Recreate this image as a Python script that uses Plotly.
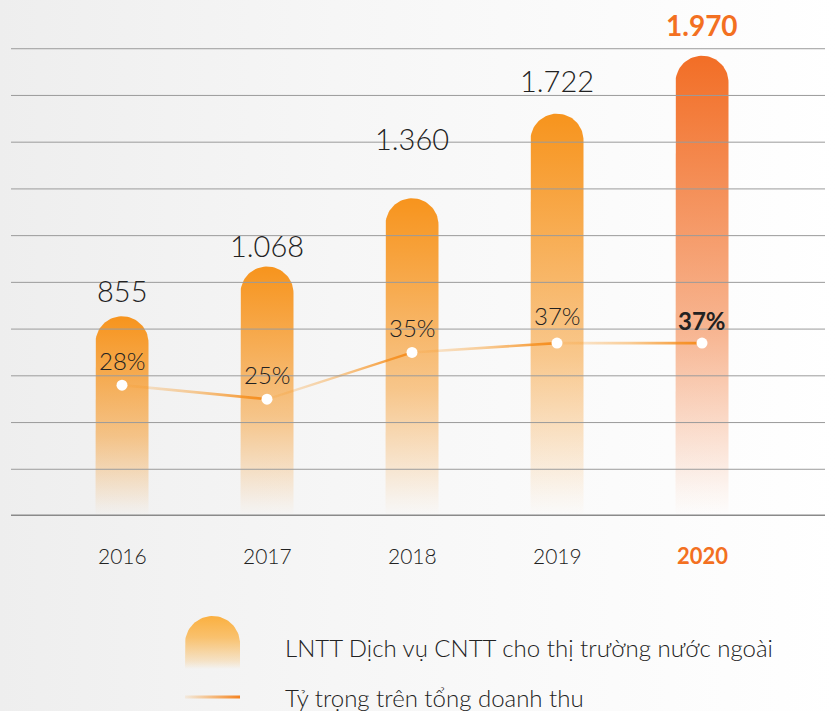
import numpy as np
import plotly.graph_objects as go

# ---------------- data ----------------
years = ["2016", "2017", "2018", "2019", "2020"]
profit = [855, 1068, 1360, 1722, 1970]           # LNTT (tỷ đồng)
profit_labels = ["855", "1.068", "1.360", "1.722", "1.970"]
share = [28, 25, 35, 37, 37]                     # % trên tổng doanh thu
share_labels = ["28%", "25%", "35%", "37%", "37%"]
legend_bar = "LNTT Dịch vụ CNTT cho thị trường nước ngoài"
legend_line = "Tỷ trọng trên tổng doanh thu"

# ---------------- style ----------------
W, H = 838, 711
FONT = "Lato"
TXT = "#222222"
ORANGE = (247, 148, 29)
ORANGE_HL = (242, 110, 38)
HL_TXT = "#F37021"
label_dy = [26, 21, 60, 33, 31]      # px above bar top
pct_dy = [25, 25, 25, 28, 23]        # px above marker

PX_L, PX_R = 11, 825                 # plot area in px
PX_TOP, PX_BOT = 2, 516
X0_PX, X_STEP = 122, 145
Y2_MAX = 2200
Y3_MAX = 110
px_per_y2 = (PX_BOT - PX_TOP) / Y2_MAX
px_per_y3 = (PX_BOT - PX_TOP) / Y3_MAX
x_rng = [(PX_L - X0_PX) / X_STEP, (PX_R - X0_PX) / X_STEP]
BAR_HALF_PX = 26.5


def rgba(c, a):
    return f"rgba({c[0]},{c[1]},{c[2]},{a})"


def bar_scale(c):
    return [[0, rgba(c, 0.0)], [0.05, rgba(c, 0.05)], [0.4, rgba(c, 0.5)],
            [0.8, rgba(c, 0.84)], [1, rgba(c, 1.0)]]


fig = go.Figure()

# ---- background (pixel-space helper axes) ----
fig.add_trace(go.Scatter(
    x=[0, W, W, 0, 0], y=[0, 0, H, H, 0], mode="lines", line=dict(width=0),
    fill="toself", xaxis="x", yaxis="y", hoverinfo="skip",
    fillgradient=dict(type="horizontal", start=0, stop=W,
                      colorscale=[[0, "#eeeeee"], [0.4, "#f6f6f6"], [1, "#ffffff"]])))

# ---- legend icons (pixel-space) ----
lx0, lx1, ltop, lbot = 185, 240, H - 616, H - 669
r = (lx1 - lx0) / 2
t = np.linspace(np.pi, 0, 40)
ix = np.concatenate([[lx0, lx0], (lx0 + lx1) / 2 + r * np.cos(t), [lx1, lx1]])
iy = np.concatenate([[lbot, ltop - r], (ltop - r) + r * np.sin(t), [ltop - r, lbot]])
fig.add_trace(go.Scatter(
    x=ix, y=iy, mode="lines", line=dict(width=0), fill="toself",
    xaxis="x", yaxis="y", hoverinfo="skip",
    fillgradient=dict(type="vertical", start=lbot, stop=ltop,
                      colorscale=[[0, rgba((251, 176, 64), 0)], [0.15, rgba((251, 176, 64), 0.25)],
                                  [0.6, rgba((251, 176, 64), 0.75)], [1, rgba((251, 176, 64), 1)]])))
ly = H - 697
fig.add_trace(go.Scatter(
    x=[lx0, lx1, lx1, lx0, lx0], y=[ly - 1.5, ly - 1.5, ly + 1.5, ly + 1.5, ly - 1.5],
    mode="lines", line=dict(width=0), fill="toself", xaxis="x", yaxis="y", hoverinfo="skip",
    fillgradient=dict(type="horizontal", start=lx0, stop=lx1,
                      colorscale=[[0, rgba(ORANGE, 0.1)], [1, rgba((245, 130, 32), 1)]])))

# ---- bars (rounded top, vertical gradient) ----
hw = BAR_HALF_PX / X_STEP
ry = BAR_HALF_PX / px_per_y2
for i, v in enumerate(profit):
    c = ORANGE_HL if i == len(profit) - 1 else ORANGE
    bx = np.concatenate([[i - hw, i - hw], i + hw * np.cos(t), [i + hw, i + hw]])
    by = np.concatenate([[0, v - ry], (v - ry) + ry * np.sin(t), [v - ry, 0]])
    fig.add_trace(go.Scatter(
        x=bx, y=by, mode="lines", line=dict(width=0), fill="toself",
        xaxis="x2", yaxis="y2", hoverinfo="skip",
        fillgradient=dict(type="vertical", start=0, stop=v, colorscale=bar_scale(c))))

# ---- share line: segments with horizontal gradient ----
half = 1.3 / px_per_y3
for i in range(len(share) - 1):
    xa, xb = i, i + 1
    ya, yb = share[i], share[i + 1]
    fig.add_trace(go.Scatter(
        x=[xa, xb, xb, xa, xa], y=[ya - half, yb - half, yb + half, ya + half, ya - half],
        mode="lines", line=dict(width=0), fill="toself",
        xaxis="x2", yaxis="y3", hoverinfo="skip",
        fillgradient=dict(type="horizontal", start=xa, stop=xb,
                          colorscale=[[0, rgba(ORANGE, 0.12)], [0.5, rgba(ORANGE, 0.45)],
                                      [1, rgba((245, 140, 30), 1)]])))

fig.add_trace(go.Scatter(
    x=list(range(len(years))), y=share, mode="markers",
    marker=dict(size=11, color="white"), xaxis="x2", yaxis="y3", hoverinfo="skip"))

# ---- annotations ----
ann = []
for i, (v, lab) in enumerate(zip(profit, profit_labels)):
    hl = i == len(profit) - 1
    ann.append(dict(x=i, y=v, xref="x2", yref="y2", text=f"<b>{lab}</b>" if hl else lab,
                    showarrow=False, yshift=label_dy[i], yanchor="middle",
                    font=dict(family=FONT, size=29 if not hl else 28,
                              color=HL_TXT if hl else TXT,
                              weight=700 if hl else 300)))
for i, (p, lab) in enumerate(zip(share, share_labels)):
    hl = i == len(share) - 1
    ann.append(dict(x=i, y=p, xref="x2", yref="y3", text=f"<b>{lab}</b>" if hl else lab,
                    showarrow=False, yshift=pct_dy[i], yanchor="middle",
                    font=dict(family=FONT, size=24, color=TXT, weight=700 if hl else 300)))
for i, yr in enumerate(years):
    hl = i == len(years) - 1
    ann.append(dict(x=i, y=0, xref="x2", yref="y2", text=f"<b>{yr}</b>" if hl else yr,
                    showarrow=False, yshift=-39, yanchor="middle",
                    font=dict(family=FONT, size=22 if hl else 21,
                              color=HL_TXT if hl else TXT,
                              weight=700 if hl else 300)))
ann.append(dict(x=283, y=H - 647, xref="x", yref="y", text=legend_bar, showarrow=False,
                xanchor="left", yanchor="middle",
                font=dict(family=FONT, size=24, color=TXT, weight=300)))
ann.append(dict(x=283, y=H - 697, xref="x", yref="y", text=legend_line, showarrow=False,
                xanchor="left", yanchor="middle",
                font=dict(family=FONT, size=24, color=TXT, weight=300)))

# ---- gridlines (above bars) ----
shapes = []
for g in range(200, 2001, 200):
    shapes.append(dict(type="line", xref="x2 domain", yref="y2", x0=0, x1=1, y0=g, y1=g,
                       line=dict(color="#9b9b9b", width=1), layer="above"))
shapes.append(dict(type="line", xref="x2 domain", yref="y2", x0=0, x1=1, y0=0, y1=0,
                   line=dict(color="#8a8a8a", width=3), layer="above"))

y_dom = [(H - PX_BOT) / H, (H - PX_TOP) / H]
hidden = dict(visible=False, showgrid=False, zeroline=False, fixedrange=True)
fig.update_layout(
    width=W, height=H, margin=dict(l=0, r=0, t=0, b=0),
    paper_bgcolor="white", plot_bgcolor="rgba(0,0,0,0)", showlegend=False,
    hovermode=False,
    xaxis=dict(domain=[0, 1], range=[0, W], **hidden),
    yaxis=dict(domain=[0, 1], range=[0, H], **hidden),
    xaxis2=dict(domain=[PX_L / W, PX_R / W], range=x_rng, anchor="y2", **hidden),
    yaxis2=dict(domain=y_dom, range=[0, Y2_MAX], anchor="x2", **hidden),
    yaxis3=dict(domain=y_dom, range=[0, Y3_MAX], anchor="x2", overlaying="y2", **hidden),
    annotations=ann, shapes=shapes,
)

fig.write_html("out.html", config={"displayModeBar": False},
               post_script="document.body.style.margin='0px';document.body.style.overflow='hidden';")
